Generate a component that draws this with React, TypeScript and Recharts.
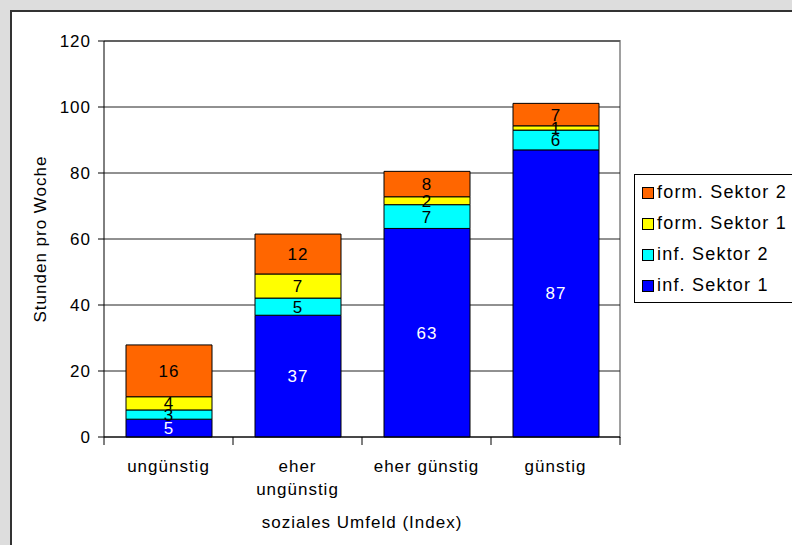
import { BarChart, Bar, XAxis, YAxis, CartesianGrid, LabelList, Text } from "recharts";

// Werte pro Kategorie (Stunden pro Woche)
const categories = ["ungünstig", "eher ungünstig", "eher günstig", "günstig"];
const infSektor1 = [5.4, 36.9, 63.2, 87.0];
const infSektor2 = [2.8, 5.2, 7.2, 6.0];
const formSektor1 = [4.0, 7.3, 2.4, 1.3];
const formSektor2 = [15.7, 12.1, 7.7, 6.8];
const yTicks = [0, 20, 40, 60, 80, 100, 120];

const seriesNames = ["inf. Sektor 1", "inf. Sektor 2", "form. Sektor 1", "form. Sektor 2"];
const seriesKeys = ["inf1", "inf2", "form1", "form2"];
const seriesColors = ["#0000ff", "#00ffff", "#ffff00", "#ff6600"];
const labelColors = ["#ffffff", "#000000", "#000000", "#000000"];

const data = categories.map((category, i) => ({
  category,
  inf1: infSektor1[i],
  inf2: infSektor2[i],
  form1: formSektor1[i],
  form2: formSektor2[i],
}));

const W = 792;
const H = 545;
const PLOT_LEFT = 104;
const PLOT_RIGHT = 620;
const PLOT_TOP = 41;
const PLOT_BOTTOM = 437;
const FONT = "'Liberation Sans', Arial, Helvetica, sans-serif";
const half = (PLOT_RIGHT - PLOT_LEFT) / categories.length / 2;

function CategoryTick(props: any) {
  const { x, y, payload, index } = props;
  return (
    <g>
      <line x1={x - half} x2={x - half} y1={PLOT_BOTTOM} y2={PLOT_BOTTOM + 8} stroke="#000" />
      {index === categories.length - 1 && (
        <line x1={x + half} x2={x + half} y1={PLOT_BOTTOM} y2={PLOT_BOTTOM + 8} stroke="#000" />
      )}
      <Text
        x={x}
        y={y + 15}
        width={100}
        textAnchor="middle"
        verticalAnchor="start"
        lineHeight={23}
        fontSize={17}
        fill="#000"
        style={{ fontFamily: FONT, fontSize: 17 }}
      >
        {payload.value}
      </Text>
    </g>
  );
}

export default function App() {
  return (
    <div
      style={{
        position: "absolute",
        left: 0,
        top: 0,
        width: W,
        height: H,
        overflow: "hidden",
        background: "#dddddd",
        fontFamily: FONT,
        letterSpacing: "1px",
      }}
    >
      {/* weisser Diagrammbereich */}
      <div
        style={{
          position: "absolute",
          left: 10,
          top: 10,
          width: 820,
          height: 580,
          background: "#fff",
          border: "2px solid #333",
        }}
      />
      {/* Rahmen der Zeichnungsfläche */}
      <div
        style={{
          position: "absolute",
          left: PLOT_LEFT,
          top: PLOT_TOP - 1,
          width: PLOT_RIGHT - PLOT_LEFT - 1,
          height: PLOT_BOTTOM - PLOT_TOP,
          borderTop: "2px solid #a0a0a0",
          borderRight: "2px solid #a0a0a0",
        }}
      />
      <div style={{ position: "absolute", left: 0, top: 0 }}>
        <BarChart
          width={W}
          height={H}
          data={data}
          margin={{ top: PLOT_TOP, right: W - PLOT_RIGHT, bottom: 8, left: 44 }}
        >
          <CartesianGrid vertical={false} stroke="#222" />
          <XAxis
            dataKey="category"
            height={H - PLOT_BOTTOM - 8}
            axisLine={{ stroke: "#000" }}
            tickLine={false}
            interval={0}
            tick={<CategoryTick />}
            label={{ value: "soziales Umfeld (Index)", position: "insideBottom", offset: 9, fill: "#000", fontSize: 17 }}
          />
          <YAxis
            width={60}
            domain={[0, 120]}
            ticks={yTicks}
            interval={0}
            axisLine={{ stroke: "#000" }}
            tickLine={{ stroke: "#000" }}
            tickSize={6}
            tickMargin={7}
            tick={{ fill: "#000", fontSize: 17 }}
            label={{ value: "Stunden pro Woche", angle: -90, position: "center", dx: -34, fill: "#000", fontSize: 17 }}
          />
          {seriesKeys.map((key, i) => (
            <Bar
              key={key}
              dataKey={key}
              name={seriesNames[i]}
              stackId="a"
              fill={seriesColors[i]}
              stroke="#000"
              strokeWidth={1}
              barSize={86}
              isAnimationActive={false}
            >
              <LabelList
                dataKey={key}
                position="center"
                fill={labelColors[i]}
                fontSize={17}
                formatter={(v: any) => Math.round(Number(v))}
              />
            </Bar>
          ))}
        </BarChart>
      </div>
      {/* Legende */}
      <div
        style={{
          position: "absolute",
          left: 634,
          top: 174,
          width: 200,
          height: 129,
          boxSizing: "border-box",
          border: "1px solid #000",
          background: "#fff",
          paddingTop: 2,
          paddingLeft: 7,
        }}
      >
        {seriesNames
          .map((name, i) => ({ name, color: seriesColors[i] }))
          .reverse()
          .map((s) => (
            <div key={s.name} style={{ display: "flex", alignItems: "center", height: 31 }}>
              <span
                style={{
                  display: "inline-block",
                  width: 12,
                  height: 12,
                  boxSizing: "border-box",
                  border: "1px solid #000",
                  background: s.color,
                  marginRight: 3,
                }}
              />
              <span style={{ fontSize: 18, letterSpacing: "1.2px", whiteSpace: "nowrap" }}>{s.name}</span>
            </div>
          ))}
      </div>
    </div>
  );
}
